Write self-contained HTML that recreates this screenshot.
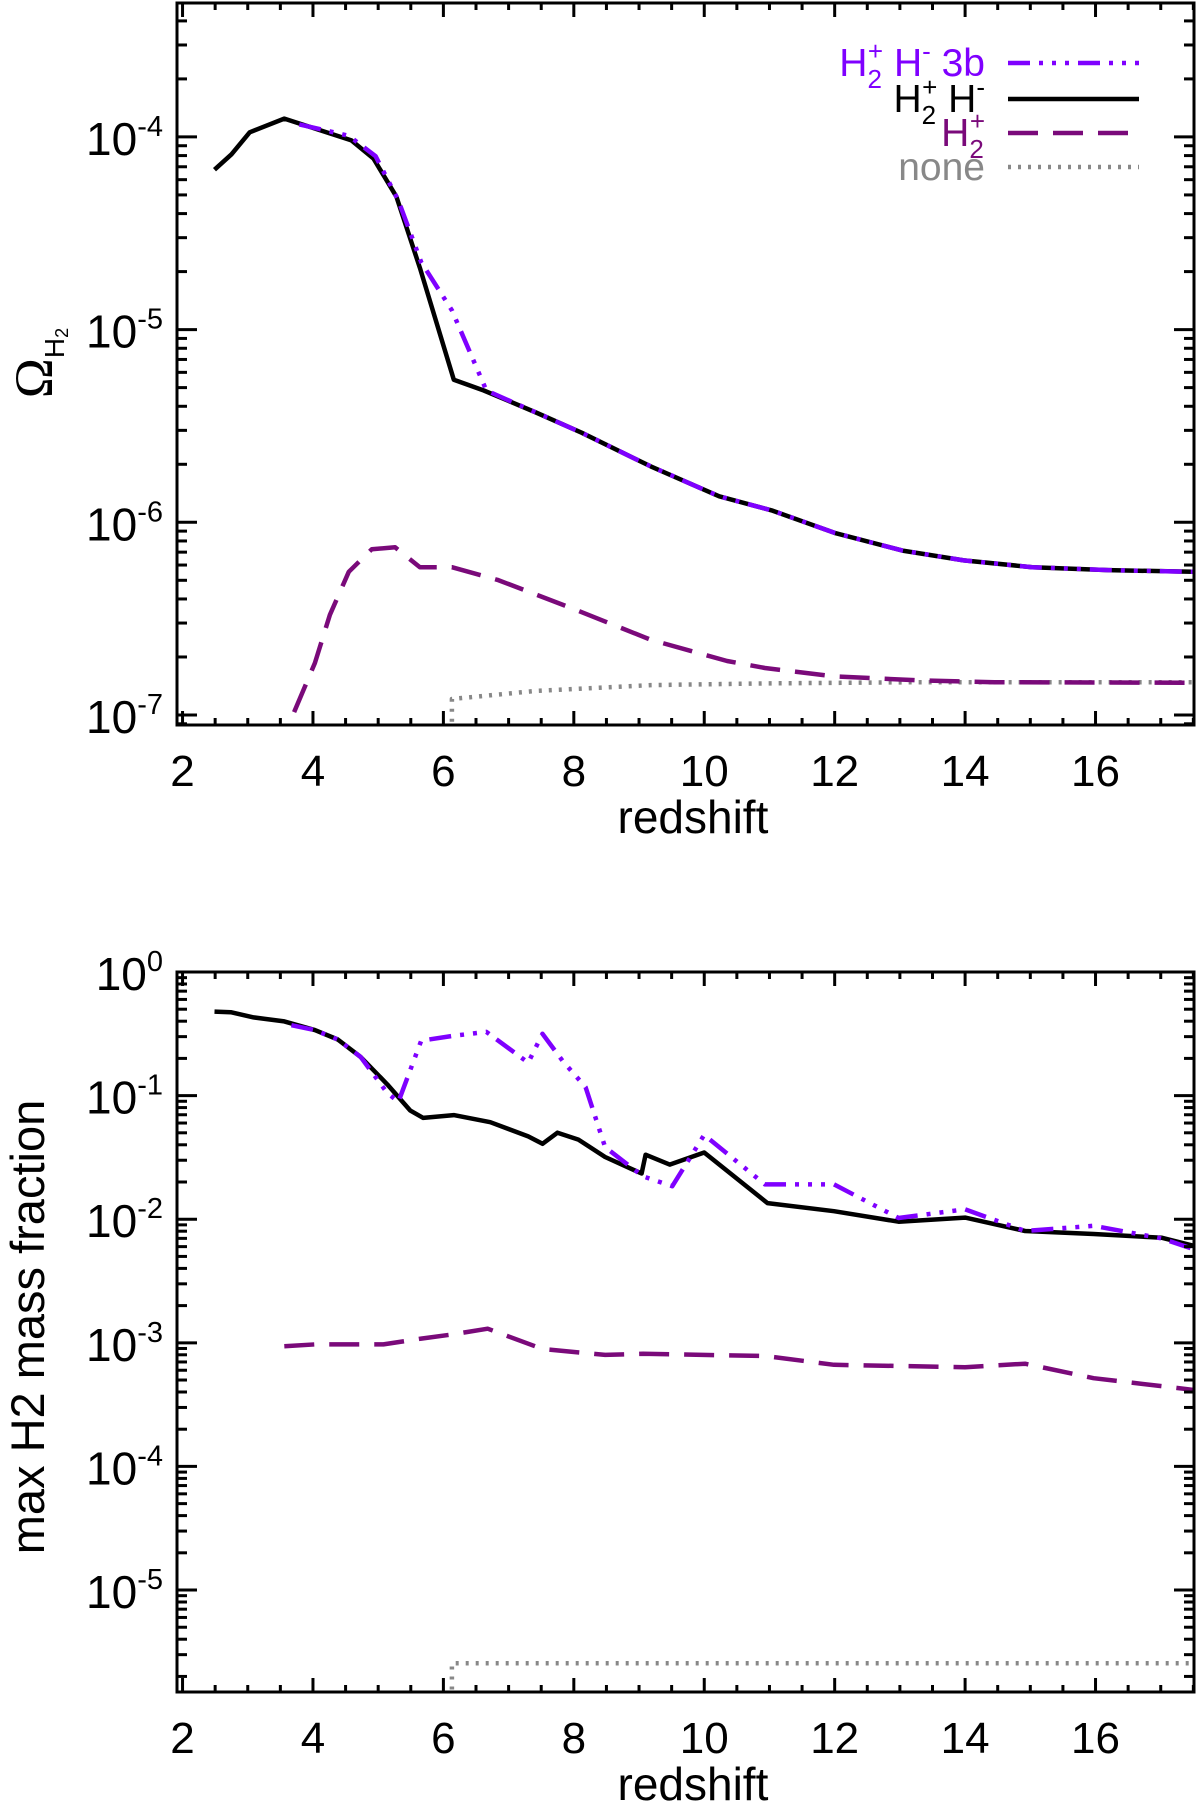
<!DOCTYPE html>
<html><head><meta charset="utf-8"><style>
html,body{margin:0;padding:0;background:#fff;}
svg{display:block;font-family:"Liberation Sans",Arial,sans-serif;}
</style></head><body>
<svg id="fig" width="1200" height="1814" viewBox="0 0 1200 1814" xmlns="http://www.w3.org/2000/svg"></svg>
<script>
// ---- data: top panel (Omega_H2 vs redshift), values are log10 ----
const topZ_3b   = [3.79,4.55,4.96,5.31,5.66,6.13,6.66,7.42,8.12,9.18,10.23,11.05,12.0,13.04,13.98,15.03,16.2,17.49];
const topV_3b   = [-3.935,-3.994,-4.10,-4.33,-4.65,-4.90,-5.316,-5.43,-5.535,-5.71,-5.865,-5.94,-6.055,-6.147,-6.198,-6.233,-6.248,-6.257];
const topZ_HH   = [2.49,2.75,3.03,3.56,4.59,4.93,5.28,5.64,6.16,6.62,7.42,8.12,9.18,10.23,11.05,12.0,13.04,13.98,15.03,16.2,17.49];
const topV_HH   = [-4.17,-4.09,-3.976,-3.905,-4.018,-4.113,-4.31,-4.68,-5.26,-5.316,-5.43,-5.535,-5.71,-5.865,-5.94,-6.055,-6.147,-6.198,-6.233,-6.248,-6.257];
const topZ_H2p  = [3.71,4.03,4.26,4.55,4.90,5.26,5.64,6.13,6.84,8.0,9.18,10.35,10.93,11.99,13.28,14.45,17.5];
const topV_H2p  = [-6.985,-6.73,-6.48,-6.257,-6.14,-6.13,-6.233,-6.233,-6.30,-6.45,-6.61,-6.72,-6.756,-6.80,-6.82,-6.83,-6.833];
const topZ_none = [6.13,6.13,7.42,9.18,10.93,13.28,17.5];
const topV_none = [-7.035,-6.917,-6.875,-6.845,-6.836,-6.83,-6.83];
// ---- data: bottom panel (max H2 mass fraction), log10 ----
const botZ_3b   = [3.67,4.03,4.38,4.73,5.14,5.31,5.66,6.13,6.66,7.30,7.52,7.83,8.18,8.48,9.06,9.51,10.0,10.93,11.99,12.98,14.0,14.92,15.97,17.02,17.49];
const botV_3b   = [-0.43,-0.47,-0.546,-0.687,-0.979,-1.05,-0.556,-0.518,-0.485,-0.734,-0.5,-0.72,-0.932,-1.417,-1.653,-1.733,-1.318,-1.718,-1.718,-1.99,-1.92,-2.095,-2.053,-2.156,-2.24];
const botZ_HH   = [2.49,2.74,3.09,3.56,4.03,4.38,4.73,5.14,5.49,5.69,6.16,6.72,7.30,7.52,7.75,8.07,8.48,9.04,9.10,9.47,10.0,10.97,11.99,12.98,14.0,14.92,15.97,17.02,17.49];
const botV_HH   = [-0.32,-0.325,-0.367,-0.40,-0.47,-0.546,-0.687,-0.909,-1.12,-1.18,-1.158,-1.215,-1.33,-1.39,-1.30,-1.356,-1.497,-1.63,-1.478,-1.558,-1.46,-1.87,-1.935,-2.02,-1.987,-2.095,-2.12,-2.15,-2.213];
const botZ_H2p  = [3.56,4.03,5.08,5.66,6.13,6.68,7.52,8.48,9.06,10.93,11.99,14.0,14.92,15.97,17.49];
const botV_H2p  = [-3.027,-3.013,-3.013,-2.966,-2.933,-2.886,-3.05,-3.098,-3.089,-3.107,-3.178,-3.197,-3.169,-3.286,-3.38];
const botZ_none = [6.13,6.13,17.5];
const botV_none = [-5.805,-5.593,-5.593];
const xTicks = [2,4,6,8,10,12,14,16];
const topYTicks = [-4,-5,-6,-7];
const botYTicks = [0,-1,-2,-3,-4,-5];

const NS="http://www.w3.org/2000/svg";
const svg=document.getElementById('fig');
function mk(tag,attrs,parent){const e=document.createElementNS(NS,tag);for(const k in attrs)e.setAttribute(k,attrs[k]);(parent||svg).appendChild(e);return e;}

const X0=177,X1=1194,ZMIN=1.915,ZMAX=17.51;
function xs(z){return X0+(z-ZMIN)/(ZMAX-ZMIN)*(X1-X0);}

const styles={
  s3b:{stroke:'#7f00ff','stroke-dasharray':'22 9 4 9 4 9 4 9'},
  sHH:{stroke:'#000'},
  sH2p:{stroke:'#7a0a7a','stroke-dasharray':'30 15'},
  snone:{stroke:'#888','stroke-dasharray':'3 7'}
};

function panel(name,Y0,Y1,LMAX,LMIN,yTicks,series){
  const g=mk('g',{});
  
  
  const ys=v=>Y0+(LMAX-v)/(LMAX-LMIN)*(Y1-Y0);
  series.forEach(s=>{
    const p=mk('polyline',Object.assign({fill:'none','stroke-width':4.5,'stroke-linejoin':'round',points:s.z.map((z,i)=>xs(z).toFixed(1)+','+ys(s.v[i]).toFixed(1)).join(' ')},styles[s.st]),g);
    
    
  });
  const fr=mk('rect',{x:X0,y:Y0,width:X1-X0,height:Y1-Y0,fill:'none',stroke:'#000','stroke-width':3},g);
  
  
  for(let z=2;z<=17.5;z+=0.5){
    const major=(z%2===0);const L=major?14:7;const x=xs(z);
    mk('line',{x1:x,x2:x,y1:Y1,y2:Y1-L,stroke:'#000','stroke-width':3},g);
    mk('line',{x1:x,x2:x,y1:Y0,y2:Y0+L,stroke:'#000','stroke-width':3},g);
  }
  xTicks.forEach(z=>{
    const t=mk('text',{x:xs(z),y:Y1+61,'font-size':44,'text-anchor':'middle'},g);t.textContent=String(z);
    
    
  });
  for(let d=Math.floor(LMIN);d<=Math.ceil(LMAX);d++){
    for(let m=1;m<=9;m++){
      const lv=d+Math.log10(m);if(lv<LMIN-1e-9||lv>LMAX+1e-9)continue;
      const y=ys(lv);const L=m===1?20:10;
      mk('line',{x1:X0,x2:X0+L,y1:y,y2:y,stroke:'#000','stroke-width':3},g);
      mk('line',{x1:X1,x2:X1-L,y1:y,y2:y,stroke:'#000','stroke-width':3},g);
    }
  }
  yTicks.forEach(e=>{
    const y=ys(e);
    const t=mk('text',{x:163,y:y+18,'font-size':46,'text-anchor':'end'},g);
    
    
    const a=mk('tspan',{},t);a.textContent='10';
    const b=mk('tspan',{'font-size':29,dy:-19},t);b.textContent=String(e);
  });
  const xt=mk('text',{x:(xs(2)+xs(17.5))/2+5,y:Y1+108,'font-size':46,'text-anchor':'middle'},g);
  xt.textContent='redshift';
  
  
  return g;
}

const topPanel=panel('top-panel',3,725,-3.305,-7.052,topYTicks,[
  {z:topZ_none,v:topV_none,st:'snone',name:'series-none'},
  {z:topZ_H2p,v:topV_H2p,st:'sH2p',name:'series-h2plus'},
  {z:topZ_HH,v:topV_HH,st:'sHH',name:'series-h2plus-hminus'},
  {z:topZ_3b,v:topV_3b,st:'s3b',name:'series-h2plus-hminus-3b'}
]);
const botPanel=panel('bottom-panel',972,1692,0,-5.825,botYTicks,[
  {z:botZ_none,v:botV_none,st:'snone',name:'series-none'},
  {z:botZ_H2p,v:botV_H2p,st:'sH2p',name:'series-h2plus'},
  {z:botZ_HH,v:botV_HH,st:'sHH',name:'series-h2plus-hminus'},
  {z:botZ_3b,v:botV_3b,st:'s3b',name:'series-h2plus-hminus-3b'}
]);

const yt1=mk('text',{transform:'translate(52,363) rotate(-90)','font-size':54,'text-anchor':'middle','font-family':'"Liberation Serif",serif'});


const om1=mk('tspan',{},yt1);om1.textContent='Ω';
const om2=mk('tspan',{'font-size':28,dy:12,'font-family':'"Liberation Sans",sans-serif'},yt1);om2.textContent='H';
const om3=mk('tspan',{'font-size':18,dy:4,'font-family':'"Liberation Sans",sans-serif'},yt1);om3.textContent='2';
const yt2=mk('text',{transform:'translate(44,1327) rotate(-90)','font-size':47,'text-anchor':'middle'});
yt2.textContent='max H2 mass fraction';



const leg=mk('g',{});


const legRows=[
  {y:63,st:'s3b',color:'#7f00ff',parts:[['H',''],['2','sub'],['+','sup'],[' H',''],['-','sup'],[' 3b','']]},
  {y:99,st:'sHH',color:'#000',parts:[['H',''],['2','sub'],['+','sup'],[' H',''],['-','sup']]},
  {y:133,st:'sH2p',color:'#7a0a7a',parts:[['H',''],['2','sub'],['+','sup']]},
  {y:167,st:'snone',color:'#888',parts:[['none','']]}
];
legRows.forEach(r=>{
  const e=mk('g',{},leg);
  
  
  mk('line',Object.assign({x1:1008,x2:1139,y1:r.y,y2:r.y,'stroke-width':4.5},styles[r.st]),e);
  const t=mk('text',{x:985,y:r.y+13,'font-size':39,fill:r.color,'text-anchor':'end'},e);
  let prev='';
  r.parts.forEach(([s,k])=>{
    const a={};
    if(k==='sub'){a['font-size']=26;a.dy=12;}
    else if(k==='sup'){a['font-size']=26;a.dy=(prev==='sub'?-28:-16);a.dx=(prev==='sub'?-14:0);}
    else {a.dy=(prev==='sub'?-12:prev==='sup'?16:0);}
    const sp=mk('tspan',a,t);sp.textContent=s;prev=k;
  });
});
</script>
</body></html>
